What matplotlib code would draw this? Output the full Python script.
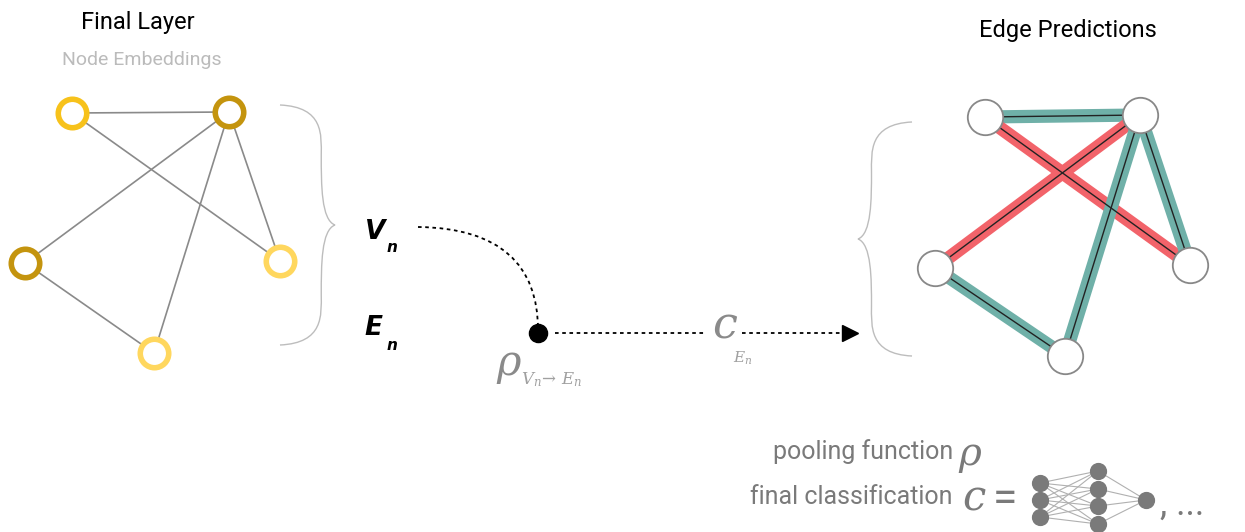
import matplotlib
matplotlib.use("Agg")
import matplotlib.pyplot as plt
from matplotlib.path import Path
from matplotlib.patches import PathPatch

# LEFT GRAPH (final layer node embeddings)
left_nodes = {"A": (72, 113), "B": (229, 112), "C": (25, 263), "D": (280, 261), "E": (154, 353)}
left_colors = {"A": "#F7C21B", "B": "#C4940E", "C": "#C4940E", "D": "#FFD75E", "E": "#FFD75E"}
left_edges = [("A", "B"), ("A", "D"), ("B", "C"), ("B", "D"), ("B", "E"), ("C", "E")]

# RIGHT GRAPH (edge predictions)
right_nodes = {"P": (985, 117), "Q": (1140, 115), "R": (935, 268), "S": (1190, 265), "T": (1065, 356)}
right_edges = [("P", "Q", "pos"), ("P", "S", "neg"), ("Q", "R", "neg"),
               ("Q", "S", "pos"), ("Q", "T", "pos"), ("R", "T", "pos")]
EDGE_COLORS = {"pos": "#6FB0A8", "neg": "#F2636A"}

# MINI NETWORK
nn_layers = [(1040, [483, 500, 517]), (1098, [471, 489, 506, 524]), (1146, [500])]

GRAY = "#7a7a7a"

fig = plt.figure(figsize=(12.45, 5.32), dpi=100)
ax = fig.add_axes([0, 0, 1, 1])
ax.set_xlim(0, 1245)
ax.set_ylim(532, 0)
ax.axis("off")

# left graph
for a, b in left_edges:
    (x1, y1), (x2, y2) = left_nodes[a], left_nodes[b]
    ax.plot([x1, x2], [y1, y2], color="#8a8a8a", lw=1.2, zorder=1)
for k, (x, y) in left_nodes.items():
    ax.scatter(x, y, s=420, facecolor="white", edgecolor=left_colors[k], linewidth=4, zorder=3)

# right graph
for a, b, kind in right_edges:
    (x1, y1), (x2, y2) = right_nodes[a], right_nodes[b]
    ax.plot([x1, x2], [y1, y2], color=EDGE_COLORS[kind], lw=9.5, solid_capstyle="butt", zorder=1)
    ax.plot([x1, x2], [y1, y2], color="#222222", lw=1.0, zorder=2)
for x, y in right_nodes.values():
    ax.scatter(x, y, s=650, facecolor="white", edgecolor="#888888", linewidth=1.3, zorder=3)


def brace(x0, tip, y0, y1, lw=1.0):
    ym = (y0 + y1) / 2
    d = tip - x0
    xm = x0 + d * 0.75
    verts = [(x0, y0), (x0 + d * 0.8, y0 + 2), (xm, y0 + 30), (xm, y0 + 50),
             (xm, ym - 40), (xm, ym - 5), (tip, ym),
             (xm, ym + 5), (xm, ym + 40), (xm, y1 - 50),
             (xm, y1 - 30), (x0 + d * 0.8, y1 - 2), (x0, y1)]
    codes = [Path.MOVETO] + [Path.CURVE4] * 12
    ax.add_patch(PathPatch(Path(verts, codes), fill=False, edgecolor="#bdbdbd", lw=lw))


brace(280, 335, 105, 345)
brace(912, 858, 122, 356)

# titles
ax.text(138, 22, "Final Layer", ha="center", va="center", fontsize=17, family="Roboto")
ax.text(142, 60, "Node Embeddings", ha="center", va="center", fontsize=14, color="#bbbbbb", family="Roboto")
ax.text(1068, 30, "Edge Predictions", ha="center", va="center", fontsize=17, family="Roboto")

# V_n, E_n
ax.text(364, 232, r"$\boldsymbol{V}$", fontsize=19, va="center")
ax.text(386, 248, r"$\boldsymbol{n}$", fontsize=11, va="center")
ax.text(364, 328, r"$\boldsymbol{E}$", fontsize=19, va="center")
ax.text(386, 346, r"$\boldsymbol{n}$", fontsize=11, va="center")

# dotted curve and lines
curve = Path([(418, 227), (500, 228), (538, 265), (538, 330)],
             [Path.MOVETO, Path.CURVE4, Path.CURVE4, Path.CURVE4])
ax.add_patch(PathPatch(curve, fill=False, edgecolor="black", lw=1.3, ls=(0, (2, 2))))
ax.scatter(538, 333, s=170, color="black", zorder=4)
ax.plot([555, 705], [333, 333], color="black", lw=1.3, ls=(0, (2, 2)))
ax.plot([742, 846], [333, 333], color="black", lw=1.3, ls=(0, (2, 2)))
ax.plot(850, 333, marker=">", markersize=11, color="black")

ax.text(496, 365, r"$\rho$", fontsize=30, color="#8a8a8a", va="center", math_fontfamily="dejavuserif")
ax.text(521, 380, r"$V_n \!\rightarrow\, E_n$", fontsize=12, color="#a0a0a0", va="center",
        math_fontfamily="dejavuserif")
ax.text(712, 325, r"$c$", fontsize=32, color="#8a8a8a", va="center", math_fontfamily="dejavuserif")
ax.text(733, 358, r"$E_n$", fontsize=11, color="#a0a0a0", va="center", math_fontfamily="dejavuserif")

# legend text
ax.text(953, 452, "pooling function", ha="right", va="center", fontsize=18, color=GRAY, family="Roboto")
ax.text(958, 456, r"$\rho$", ha="left", va="center", fontsize=28, color=GRAY, math_fontfamily="dejavuserif")
ax.text(952, 497, "final classification", ha="right", va="center", fontsize=18, color=GRAY, family="Roboto")
ax.text(962, 497, r"$c$", ha="left", va="center", fontsize=30, color=GRAY, math_fontfamily="dejavuserif")
ax.text(993, 500, "=", ha="left", va="center", fontsize=32, color=GRAY, family="Roboto")

for (xa, ya), (xb, yb) in zip(nn_layers[:-1], nn_layers[1:]):
    for y1 in ya:
        for y2 in yb:
            ax.plot([xa, xb], [y1, y2], color="#b0b0b0", lw=0.8, zorder=1)
for x, ys in nn_layers:
    ax.scatter([x] * len(ys), ys, s=130, color=GRAY, zorder=2)
ax.text(1160, 505, ", ...", ha="left", va="center", fontsize=26, color=GRAY, family="Roboto")

fig.savefig("out.png", dpi=100)
